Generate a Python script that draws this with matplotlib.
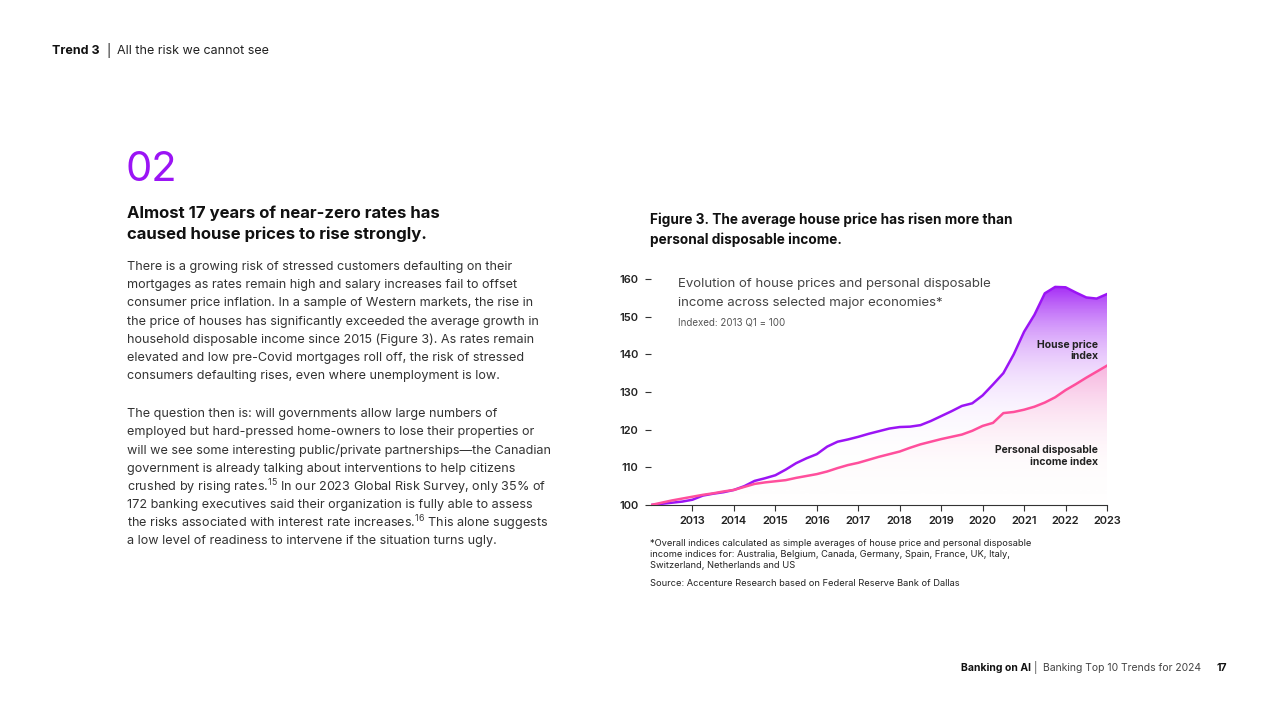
import matplotlib
matplotlib.use("Agg")
import matplotlib.pyplot as plt
import numpy as np
from matplotlib.patches import Polygon
from matplotlib.colors import LinearSegmentedColormap

plt.rcParams['font.family'] = ['Inter', 'DejaVu Sans']

years = [2012, 2012.25, 2012.5, 2012.75, 2013, 2013.25, 2013.5, 2013.75, 2014, 2014.25, 2014.5, 2014.75,
         2015, 2015.25, 2015.5, 2015.75, 2016, 2016.25, 2016.5, 2016.75, 2017, 2017.25, 2017.5, 2017.75,
         2018, 2018.25, 2018.5, 2018.75, 2019, 2019.25, 2019.5, 2019.75, 2020, 2020.25, 2020.5, 2020.75,
         2021, 2021.25, 2021.5, 2021.75, 2022, 2022.25, 2022.5, 2022.75, 2023]
house = [100, 100.3, 100.6, 100.9, 101.4, 102.5, 103.0, 103.4, 104.0, 105.0, 106.4, 107.1,
         107.9, 109.4, 111.1, 112.4, 113.5, 115.5, 116.8, 117.4, 118.1, 118.9, 119.6, 120.3,
         120.7, 120.8, 121.2, 122.3, 123.6, 124.9, 126.3, 127.0, 129.1, 132.0, 135.0, 140.0,
         146.0, 150.5, 156.2, 157.9, 157.8, 156.4, 155.1, 154.8, 156.0]
income = [100, 100.6, 101.2, 101.7, 102.2, 102.7, 103.1, 103.6, 104.0, 104.8, 105.6, 106.0,
          106.3, 106.6, 107.2, 107.7, 108.2, 108.9, 109.8, 110.6, 111.2, 112.0, 112.8, 113.5,
          114.2, 115.2, 116.1, 116.8, 117.5, 118.1, 118.7, 119.7, 121.0, 121.8, 124.4, 124.7,
          125.3, 126.1, 127.2, 128.6, 130.5, 132.1, 133.8, 135.4, 137.0]
tick_years = list(range(2013, 2024))
yticks = [100, 110, 120, 130, 140, 150, 160]

PURPLE = '#9b14f5'
PINK = '#ff4f9c'

fig = plt.figure(figsize=(12.8, 7.2), dpi=100)
fig.patch.set_facecolor('white')
W, H = 1280, 720
def T(x, y, s, **kw):
    fig.text(x / W, 1 - y / H, s, **kw)

ax = fig.add_axes([651 / W, 1 - 505 / H, (1107 - 651) / W, (505 - 279) / H])
ax.set_xlim(2012, 2023)
ax.set_ylim(100, 160)

def grad_fill(y, color, power):
    cmap = LinearSegmentedColormap.from_list('g', [(1, 1, 1, 0), color])
    grad = np.linspace(0, 1, 256).reshape(-1, 1) ** power
    im = ax.imshow(grad, cmap=cmap, vmin=0, vmax=1, aspect='auto', origin='lower',
                   extent=[2012, 2023, 100, 160], zorder=1)
    verts = list(zip(years, y)) + [(2023, 100), (2012, 100)]
    poly = Polygon(verts, closed=True, transform=ax.transData, facecolor='none', edgecolor='none')
    ax.add_patch(poly)
    im.set_clip_path(poly)

grad_fill(house, PURPLE, 1.8)
grad_fill(income, PINK, 1.2)
ax.plot(years, house, color=PURPLE, lw=1.8, zorder=3, solid_joinstyle='round')
ax.plot(years, income, color=PINK, lw=1.8, zorder=3, solid_joinstyle='round')

for s in ['top', 'right', 'left']:
    ax.spines[s].set_visible(False)
ax.spines['bottom'].set_color('#333333')
ax.set_xticks(tick_years)
ax.set_xticklabels([str(t) for t in tick_years], fontsize=8, fontweight='semibold', color='#222222')
ax.set_yticks(yticks)
ax.set_yticklabels([str(t) for t in yticks], fontsize=8, fontweight='semibold', color='#222222')
ax.tick_params(axis='x', length=4, color='#333333', pad=4)
ax.tick_params(axis='y', length=4, color='#333333', pad=5)

ax.text(2022.78, 141, 'House price\nindex', ha='right', va='center', fontsize=7.5, fontweight='bold', color='#222222')
ax.text(2022.78, 113, 'Personal disposable\nincome index', ha='right', va='center', fontsize=7.5, fontweight='bold', color='#222222')

# chart texts
T(678, 284, 'Evolution of house prices and personal disposable', fontsize=9.5, color='#444444', va='center')
T(678, 303, 'income across selected major economies*', fontsize=9.5, color='#444444', va='center')
T(678, 322, 'Indexed: 2013 Q1 = 100', fontsize=7, color='#555555', va='center')
T(650, 220, 'Figure 3. The average house price has risen more than', fontsize=9.8, fontweight='bold', color='#111111', va='center')
T(650, 240, 'personal disposable income.', fontsize=9.8, fontweight='bold', color='#111111', va='center')
foot = ['*Overall indices calculated as simple averages of house price and personal disposable',
        'income indices for: Australia, Belgium, Canada, Germany, Spain, France, UK, Italy,',
        'Switzerland, Netherlands and US']
for i, l in enumerate(foot):
    T(650, 544 + i * 10.5, l, fontsize=6.7, color='#222222', va='center')
T(650, 584, 'Source: Accenture Research based on Federal Reserve Bank of Dallas',
  fontsize=6.7, color='#222222', va='center')

# page texts
T(52, 51, 'Trend 3', fontsize=9, fontweight='bold', color='#111111', va='center')
T(106, 51, '|', fontsize=9, color='#222222', va='center')
T(117, 51, 'All the risk we cannot see', fontsize=9, color='#222222', va='center')
T(125, 170, '02', fontsize=30, color=PURPLE, va='center')
T(127, 213, 'Almost 17 years of near-zero rates has', fontsize=12, fontweight='bold', color='#111111', va='center')
T(127, 234, 'caused house prices to rise strongly.', fontsize=12, fontweight='bold', color='#111111', va='center')
body1 = ["There is a growing risk of stressed customers defaulting on their",
         "mortgages as rates remain high and salary increases fail to offset",
         "consumer price inflation. In a sample of Western markets, the rise in",
         "the price of houses has significantly exceeded the average growth in",
         "household disposable income since 2015 (Figure 3). As rates remain",
         "elevated and low pre-Covid mortgages roll off, the risk of stressed",
         "consumers defaulting rises, even where unemployment is low."]
body2 = ["The question then is: will governments allow large numbers of",
         "employed but hard-pressed home-owners to lose their properties or",
         "will we see some interesting public/private partnerships\u2014the Canadian",
         "government is already talking about interventions to help citizens",
         r"crushed by rising rates.$^{15}$ In our 2023 Global Risk Survey, only 35% of",
         "172 banking executives said their organization is fully able to assess",
         r"the risks associated with interest rate increases.$^{16}$ This alone suggests",
         "a low level of readiness to intervene if the situation turns ugly."]
plt.rcParams['mathtext.fontset'] = 'custom'
plt.rcParams['mathtext.rm'] = 'Inter'
for i, l in enumerate(body1):
    T(127, 267 + i * 18.2, l, fontsize=9.1, color='#333333', va='center')
for i, l in enumerate(body2):
    T(127, 414 + i * 18.2, l, fontsize=9.1, color='#333333', va='center')

T(1031, 668, 'Banking on AI', fontsize=7.5, fontweight='bold', color='#111111', va='center', ha='right')
T(1034, 668, '|', fontsize=7.5, color='#444444', va='center')
T(1043, 668, 'Banking Top 10 Trends for 2024', fontsize=7.5, color='#444444', va='center')
T(1227, 668, '17', fontsize=7.5, fontweight='bold', color='#111111', va='center', ha='right')

fig.savefig('out.png', dpi=100)
